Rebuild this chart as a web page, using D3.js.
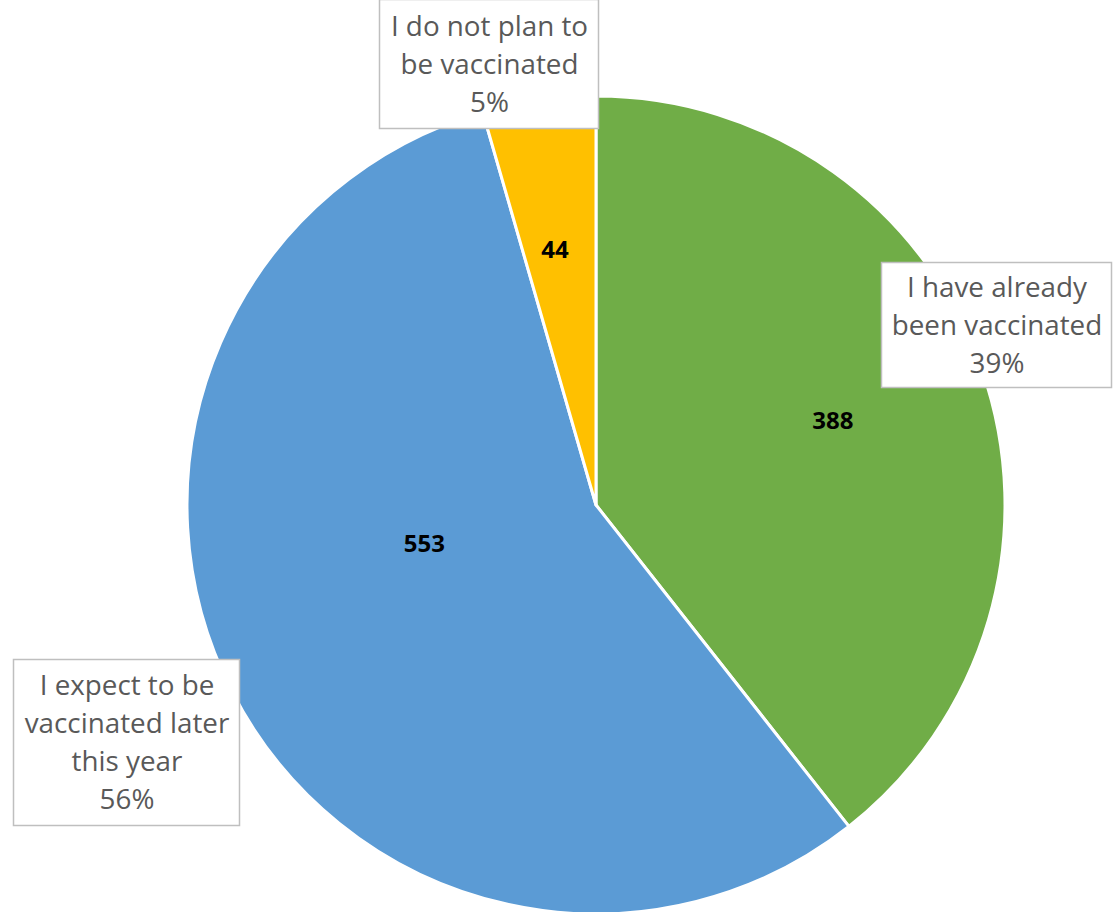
<!DOCTYPE html>
<html><head><meta charset="utf-8">
<script src="https://cdn.jsdelivr.net/npm/d3@7"></script>
<style>html,body{margin:0;padding:0;background:#fff;overflow:hidden}</style>
</head><body><svg id="c" width="1114" height="912"></svg>
<script>
const categories = ["I have already been vaccinated", "I expect to be vaccinated later this year", "I do not plan to be vaccinated"];
const values = [388, 553, 44];
const labelLines = [["I have already", "been vaccinated"], ["I expect to be", "vaccinated later", "this year"], ["I do not plan to", "be vaccinated"]];
const colors = ["#70AD47", "#5B9BD5", "#FFC000"];

const svg = d3.select("#c");
const cx = 596, cy = 505, R = 409;
const g = svg.append("g").attr("transform", `translate(${cx},${cy})`);
const total = d3.sum(values);
const pie = d3.pie().sort(null).value(d => d)(values);
const arc = d3.arc().innerRadius(0).outerRadius(R);

// percentages rounded so they add up to 100 (largest remainder)
const raw = values.map(v => v / total * 100);
const pct = raw.map(Math.floor);
let rest = 100 - d3.sum(pct);
d3.range(values.length).sort((a, b) => (raw[b] - pct[b]) - (raw[a] - pct[a])).forEach(i => { if (rest > 0) { pct[i]++; rest--; } });

g.selectAll("path").data(pie).join("path")
  .attr("d", arc).attr("fill", (d, i) => colors[i])
  .attr("stroke", "#fff").attr("stroke-width", 3).attr("stroke-linejoin", "round");

// inner value labels
const inner = [{r: 0.615, da: -0.6}, {r: 0.43, da: 14.6}, {r: 0.633, da: -1.1}];
g.selectAll("text.v").data(pie).join("text").attr("class", "v")
  .attr("x", (d, i) => { const a = (d.startAngle + d.endAngle) / 2 + inner[i].da * Math.PI / 180; return Math.sin(a) * R * inner[i].r; })
  .attr("y", (d, i) => { const a = (d.startAngle + d.endAngle) / 2 + inner[i].da * Math.PI / 180; return -Math.cos(a) * R * inner[i].r; })
  .attr("dy", "0.36em").attr("text-anchor", "middle")
  .style("font-family", "'Open Sans', 'Liberation Sans', sans-serif").style("font-weight", "bold").style("font-size", "24px")
  .attr("fill", "#000").text(d => d.data);

// callout boxes (x, y, w, h in page coordinates)
const boxes = [{x: 881, y: 262, w: 230, h: 125}, {x: 13, y: 659, w: 226, h: 166}, {x: 379, y: -1, w: 219, h: 129}];
const lh = 38;
const cg = svg.append("g");
boxes.forEach((b, i) => {
  const grp = cg.append("g");
  grp.append("rect").attr("x", b.x + 0.5).attr("y", b.y + 0.5).attr("width", b.w).attr("height", b.h)
    .attr("fill", "#fff").attr("stroke", "#BFBFBF").attr("stroke-width", 1.5);
  const lines = labelLines[i].concat([pct[i] + "%"]);
  const t0 = b.y + b.h / 2 - (lines.length - 1) * lh / 2;
  lines.forEach((ln, j) => {
    grp.append("text").attr("x", b.x + b.w / 2 + 1).attr("y", t0 + j * lh).attr("dy", "0.36em")
      .attr("text-anchor", "middle")
      .style("font-family", "'Open Sans', 'Liberation Sans', sans-serif").style("font-size", "27.8px")
      .attr("fill", "#595959").text(ln);
  });
});
</script></body></html>
